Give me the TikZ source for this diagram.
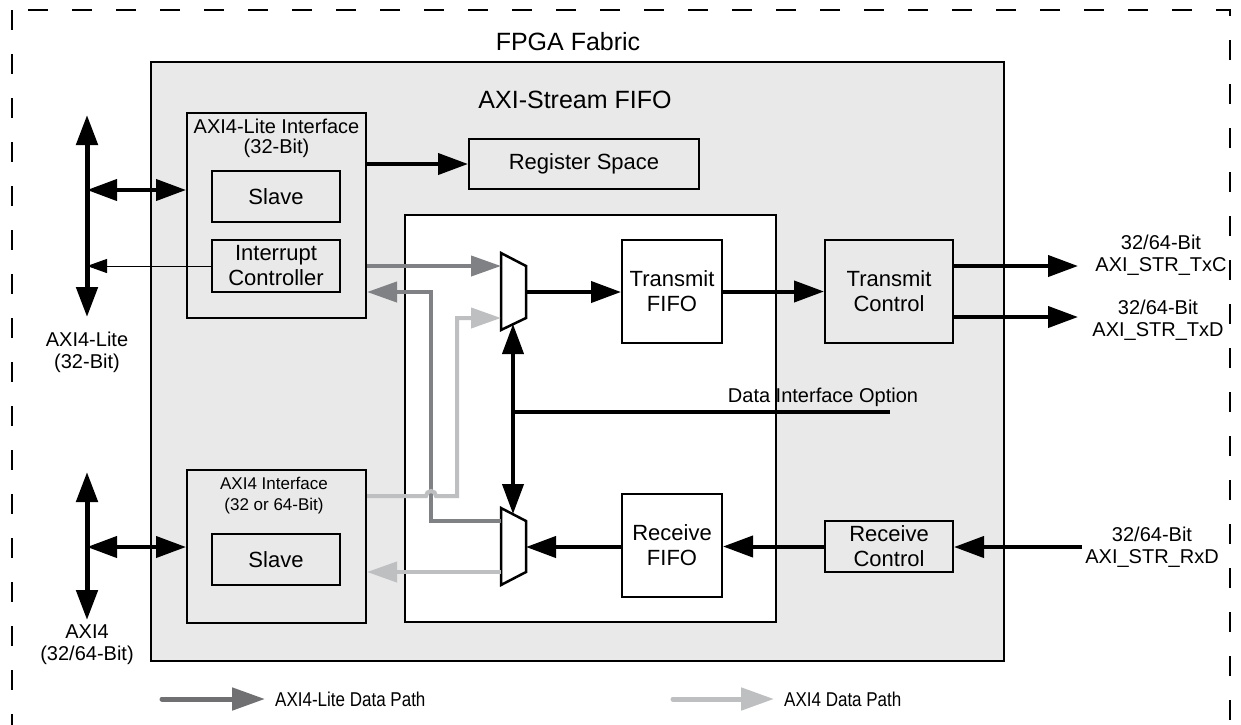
\documentclass[tikz,border=0pt]{standalone}
\usepackage{fontspec}
\setmainfont{Liberation Sans}
\newfontfamily\narrowfont[FakeStretch=0.85]{Liberation Sans}
\usetikzlibrary{arrows.meta,positioning}
\definecolor{fifogray}{RGB}{233,233,233}
\definecolor{litegray}{RGB}{128,129,132}
\definecolor{axigray}{RGB}{190,191,193}
\definecolor{legdark}{RGB}{112,112,114}
\tikzset{
  blk/.style={
    draw,
    line width=2pt,
    inner sep=0pt,
    align=center,
    font=\fontsize{22}{25}\selectfont
  },
  heading/.style={inner sep=0pt, align=center, font=\fontsize{25}{28}\selectfont},
  subhead/.style={inner sep=0pt, align=center, font=\fontsize{20}{20}\selectfont},
  lbl/.style={inner sep=0pt, align=center, font=\fontsize{20}{22}\selectfont},
  legend/.style={inner sep=0pt, anchor=west, font=\narrowfont\fontsize{20}{22}\selectfont},
  flow/.style={line width=4pt, -{Triangle[length=30pt,width=21pt]}},
  bidir/.style={line width=4pt, {Triangle[length=30pt,width=21pt]}-{Triangle[length=30pt,width=21pt]}},
  irq/.style={line width=1pt, -{Triangle[length=20pt,width=14pt]}},
  litepath/.style={draw=litegray, line width=4pt, -{Triangle[length=30pt,width=20pt]}},
  axipath/.style={draw=axigray, line width=4pt, -{Triangle[length=30pt,width=20pt]}},
  muxline/.style={draw, line width=2.5pt, fill=white, line join=miter}
}

\begin{document}
\begin{tikzpicture}[x=1pt, y=-1pt]
  \useasboundingbox (0,0) rectangle (1241,724);
  \clip (0,0) rectangle (1241,724);
  \fill[white] (0,0) rectangle (1241,724);

  % fabric frame, its bottom edge lies below the page
  \draw[line width=1.2pt, dash pattern=on 20pt off 24pt] (12,10) rectangle (1230,790);
  \node[heading] (fabric) at (568,42) {FPGA Fabric};

  % AXI-Stream FIFO core
  \node[blk, line width=2.5pt, fill=fifogray, minimum width=853pt, minimum height=599pt] (fifo) at (577.5,361.5) {};
  \node[heading] (fifotitle) at (575,100) {AXI-Stream FIFO};
  \node[blk, fill=white, minimum width=371pt, minimum height=407pt] (core) at (590.5,418.5) {};

  \node[blk, minimum width=179pt, minimum height=205pt] (litei) at (276.5,215.5) {};
  \node[subhead] (liteititle) at (276.5,138) {AXI4-Lite Interface\\(32-Bit)};
  \node[blk, minimum width=128pt, minimum height=51pt] (lslave) at (276,196.5) {Slave};
  \node[blk, minimum width=128pt, minimum height=52pt] (intc) at (276,266) {Interrupt\\Controller};

  \node[blk, minimum width=179pt, minimum height=153pt] (axii) at (276.5,546.5) {};
  \node[subhead, font=\fontsize{17}{21}\selectfont] (axiititle) at (274,496) {AXI4 Interface\\(32 or 64-Bit)};
  \node[blk, minimum width=128pt, minimum height=51pt] (aslave) at (276,559.5) {Slave};

  \node[blk, minimum width=230pt, minimum height=50pt] (regsp) at (584,164) {Register Space};
  \node[blk, minimum width=100pt, minimum height=103pt] (txfifo) at (672,291.5) {Transmit\\FIFO};
  \node[blk, minimum width=100pt, minimum height=103pt] (rxfifo) at (672,545.5) {Receive\\FIFO};
  \node[blk, minimum width=128pt, minimum height=103pt] (txctrl) at (889,291.5) {Transmit\\Control};
  \node[blk, minimum width=128pt, minimum height=51pt] (rxctrl) at (889,546.5) {Receive\\Control};

  % muxes
  \draw[muxline] (501,253) -- (526,266) -- (526,318) -- (501,330) -- cycle;
  \draw[muxline] (501,508) -- (526,521) -- (526,572) -- (501,585) -- cycle;
  \coordinate (mux1out) at (526,292);
  \coordinate (mux1lite) at (501,266);
  \coordinate (mux1axi) at (501,318);
  \coordinate (mux1bot) at (513,324);
  \coordinate (mux2in) at (526,547);
  \coordinate (mux2lite) at (501,521);
  \coordinate (mux2axi) at (501,572);
  \coordinate (mux2top) at (513,514);
  \coordinate (optjoin) at (513,412);
  \coordinate (optend) at (890,412);
  \coordinate (litebend) at (431,292);
  \coordinate (hop) at (431,496);
  \coordinate (axibend) at (457,496);

  % left buses
  \coordinate (ltop) at (87,115);
  \coordinate (lbot) at (87,317);
  \coordinate (ljoin) at (87,190);
  \coordinate (atop) at (87,472);
  \coordinate (abot) at (87,620);
  \coordinate (ajoin) at (87,547);
  \draw[bidir, line width=5pt] (ltop) -- (lbot);
  \draw[bidir, line width=5pt] (atop) -- (abot);
  \draw[bidir] (ljoin) -- (ljoin -| litei.west);
  \draw[bidir] (ajoin) -- (ajoin -| axii.west);
  \draw[irq] (intc.west) -- (intc.west -| ljoin);
  \node[lbl] (litelbl) at (87,352) {AXI4-Lite\\(32-Bit)};
  \node[lbl] (axilbl) at (87,645) {AXI4\\(32/64-Bit)};

  % data paths
  \draw[flow] (litei.east |- regsp) -- (regsp);
  \draw[flow] (mux1out) -- (txfifo.west |- mux1out);
  \draw[flow] (txfifo) -- (txctrl);
  \draw[flow] (rxctrl.west) -- (rxfifo.east |- rxctrl.west);
  \draw[flow] (rxfifo.west |- mux2in) -- (mux2in);
  \draw[bidir] (mux1bot) -- (mux2top);
  \draw[line width=4.5pt] (optjoin) -- (optend);
  \node[lbl] (optlbl) at (823,397) {Data Interface Option};

  % stream ports
  \coordinate (txcend) at (1078,266);
  \coordinate (txdend) at (1078,317);
  \coordinate (rxdstart) at (1082,547);
  \draw[flow] (txctrl.east |- txcend) -- (txcend);
  \draw[flow] (txctrl.east |- txdend) -- (txdend);
  \draw[flow] (rxdstart) -- (rxctrl.east |- rxdstart);
  \node[lbl] (txclbl) at (1161,255) {32/64-Bit\\AXI\_STR\_TxC};
  \node[lbl] (txdlbl) at (1158,320) {32/64-Bit\\AXI\_STR\_TxD};
  \node[lbl] (rxdlbl) at (1152,547) {32/64-Bit\\AXI\_STR\_RxD};

  % grey paths
  \draw[litepath] (litei.east |- mux1lite) -- (mux1lite);
  \draw[litepath] (mux2lite) -| (litebend) -- (litei.east |- litebend);
  \draw[axipath] (axii.east |- hop) -- ([xshift=-5pt]hop) arc[start angle=180, end angle=0, radius=5pt] -- (axibend) |- (mux1axi);
  \draw[axipath] (mux2axi) -- (axii.east |- mux2axi);

  % legend
  \coordinate (lglitestart) at (162,699);
  \coordinate (lgaxistart) at (673,699);
  \node[legend] (lglite) at (275,699) {AXI4-Lite Data Path};
  \node[legend] (lgaxi) at (784,699) {AXI4 Data Path};
  \draw[draw=legdark, line width=5pt, line cap=round, -{Triangle[length=33pt,width=22pt]}, shorten >=10pt] (lglitestart) -- (lglite.west);
  \draw[draw=axigray, line width=5pt, line cap=round, -{Triangle[length=33pt,width=22pt]}, shorten >=10pt] (lgaxistart) -- (lgaxi.west);
\end{tikzpicture}
\end{document}
